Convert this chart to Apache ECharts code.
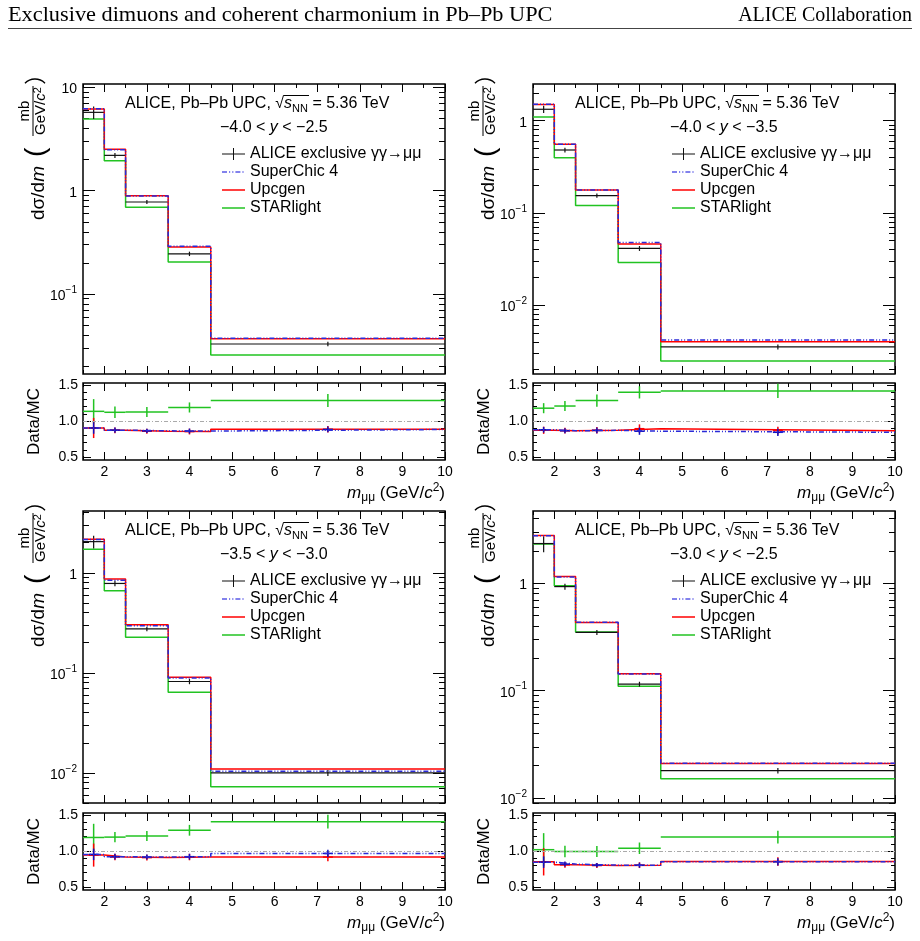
<!DOCTYPE html>
<html>
<head>
<meta charset="utf-8">
<script src="https://cdn.jsdelivr.net/npm/echarts@6/dist/echarts.min.js"></script>
<style>
html, body { margin: 0; padding: 0; background: #fff; }
#chart { width: 920px; height: 941px; }
</style>
</head>
<body>
<div id="chart"></div>
<script>
var FONT = 'Liberation Sans';

// m_mumu bins (GeV/c^2)
var binEdges = [1.5, 2, 2.5, 3.5, 4.5, 10];
var xMajorTicks = [2, 3, 4, 5, 6, 7, 8, 9, 10];
var xMinorTicks = [1.5, 2.5, 3.5, 4.5, 5.5, 6.5, 7.5, 8.5, 9.5];
var ratioMajorTicks = [0.5, 1.0, 1.5];
var ratioMinorTicks = [0.6, 0.7, 0.8, 0.9, 1.1, 1.2, 1.3, 1.4];
var logDecades = [0.001, 0.01, 0.1, 1, 10];
var logMinorSteps = [2, 3, 4, 5, 6, 7, 8, 9];

var names = ['ALICE exclusive γγ→μμ', 'SuperChic 4', 'Upcgen', 'STARlight'];
var rapLabels = ['−4.0 < {i|y} < −2.5', '−4.0 < {i|y} < −3.5', '−3.5 < {i|y} < −3.0', '−3.0 < {i|y} < −2.5'];

// -4.0 < y < -2.5
var alice1 = [5.74, 2.20, 0.778, 0.245, 0.0328];
var aliceErr1 = [0.8, 0.12, 0.035, 0.012, 0.0016];
var superchic1 = [6.22, 2.50, 0.890, 0.290, 0.0372];
var upcgen1 = [6.18, 2.52, 0.895, 0.285, 0.0369];
var starlight1 = [4.94, 1.95, 0.690, 0.204, 0.0257];
var ratioUp1 = [0.905, 0.873, 0.860, 0.855, 0.886];
var ratioSC1 = [0.905, 0.875, 0.865, 0.862, 0.884];
var ratioSL1 = [1.136, 1.123, 1.127, 1.190, 1.286];
var errUp1 = [0.14, 0.04, 0.035, 0.04, 0.045];
var errSC1 = [0.08, 0.035, 0.03, 0.035, 0.04];
var errSL1 = [0.17, 0.08, 0.07, 0.07, 0.09];

// -4.0 < y < -3.5
var alice2 = [1.33, 0.481, 0.154, 0.0412, 0.00353];
var aliceErr2 = [0.12, 0.028, 0.008, 0.0025, 0.00022];
var superchic2 = [1.51, 0.556, 0.177, 0.0477, 0.00418];
var upcgen2 = [1.50, 0.554, 0.177, 0.0459, 0.00400];
var starlight2 = [1.10, 0.397, 0.120, 0.0290, 0.00247];
var ratioUp2 = [0.873, 0.868, 0.873, 0.895, 0.868];
var ratioSC2 = [0.880, 0.866, 0.872, 0.860, 0.845];
var ratioSL2 = [1.18, 1.21, 1.286, 1.40, 1.42];
var errUp2 = [0.05, 0.04, 0.045, 0.06, 0.055];
var errSC2 = [0.04, 0.035, 0.04, 0.05, 0.05];
var errSL2 = [0.07, 0.07, 0.085, 0.085, 0.1];

// -3.5 < y < -3.0
var alice3 = [2.05, 0.783, 0.275, 0.082, 0.0100];
var aliceErr3 = [0.3, 0.05, 0.014, 0.005, 0.0007];
var superchic3 = [2.15, 0.845, 0.296, 0.089, 0.0104];
var upcgen3 = [2.17, 0.865, 0.303, 0.0905, 0.01096];
var starlight3 = [1.72, 0.662, 0.227, 0.0641, 0.00725];
var ratioUp3 = [0.945, 0.918, 0.910, 0.918, 0.918];
var ratioSC3 = [0.955, 0.923, 0.918, 0.923, 0.968];
var ratioSL3 = [1.19, 1.195, 1.21, 1.29, 1.41];
var errUp3 = [0.16, 0.045, 0.04, 0.045, 0.06];
var errSC3 = [0.08, 0.04, 0.035, 0.04, 0.05];
var errSL3 = [0.19, 0.07, 0.07, 0.075, 0.095];

// -3.0 < y < -2.5
var alice4 = [2.34, 0.93, 0.348, 0.115, 0.0180];
var aliceErr4 = [0.4, 0.06, 0.018, 0.006, 0.0011];
var superchic4 = [2.77, 1.14, 0.432, 0.143, 0.0211];
var upcgen4 = [2.78, 1.153, 0.430, 0.1435, 0.0210];
var starlight4 = [2.32, 0.945, 0.352, 0.110, 0.0151];
var ratioUp4 = [0.852, 0.810, 0.800, 0.805, 0.856];
var ratioSC4 = [0.847, 0.820, 0.805, 0.805, 0.852];
var ratioSL4 = [1.02, 0.995, 0.995, 1.04, 1.195];
var errUp4 = [0.19, 0.04, 0.035, 0.04, 0.06];
var errSC4 = [0.08, 0.035, 0.03, 0.035, 0.05];
var errSL4 = [0.23, 0.08, 0.075, 0.08, 0.09];

var panelData = [
  {alice: alice1, aliceErr: aliceErr1, sc: superchic1, up: upcgen1, sl: starlight1, rUp: ratioUp1, rSC: ratioSC1, rSL: ratioSL1, eUp: errUp1, eSC: errSC1, eSL: errSL1},
  {alice: alice2, aliceErr: aliceErr2, sc: superchic2, up: upcgen2, sl: starlight2, rUp: ratioUp2, rSC: ratioSC2, rSL: ratioSL2, eUp: errUp2, eSC: errSC2, eSL: errSL2},
  {alice: alice3, aliceErr: aliceErr3, sc: superchic3, up: upcgen3, sl: starlight3, rUp: ratioUp3, rSC: ratioSC3, rSL: ratioSL3, eUp: errUp3, eSC: errSC3, eSL: errSL3},
  {alice: alice4, aliceErr: aliceErr4, sc: superchic4, up: upcgen4, sl: starlight4, rUp: ratioUp4, rSC: ratioSC4, rSL: ratioSL4, eUp: errUp4, eSC: errSC4, eSL: errSL4}
];

// pad layout
var PW = 362;
var layout = [
  {left: 83, top: 84, h: 290, rTop: 383, rH: 77, yMin: 0.0168, yMax: 10.8},
  {left: 533, top: 84, h: 290, rTop: 383, rH: 77, yMin: 0.00179, yMax: 2.5},
  {left: 83, top: 511, h: 292, rTop: 813, rH: 77, yMin: 0.005, yMax: 4.15},
  {left: 533, top: 511, h: 292, rTop: 813, rH: 77, yMin: 0.009, yMax: 4.7}
];

var RED = '#ff0000', BLUE = '#2a2ad8', GREEN = '#22c322', BLACK = '#111';

var logMinors = [];
logDecades.forEach(function (d) {
  logMinorSteps.forEach(function (s) { logMinors.push(+(d * s).toPrecision(3)); });
});

function stepData(vals) {
  var d = [];
  for (var i = 0; i < vals.length; i++) d.push([binEdges[i], vals[i]]);
  d.push([binEdges[vals.length], vals[vals.length - 1]]);
  return d;
}
function errData(vals, errs) {
  return vals.map(function (v, i) { return [binEdges[i], binEdges[i + 1], v, errs[i]]; });
}
function errorBars(color, width, mode) {
  return function (params, api) {
    var xlo = api.value(0), xhi = api.value(1), y = api.value(2), e = api.value(3);
    var xc = (xlo + xhi) / 2;
    var c = api.coord([xc, y]);
    var up = api.coord([xc, y + e]);
    var dn = api.coord([xc, Math.max(y - e, 1e-9)]);
    var h1, h2;
    if (mode === 'span') { h1 = api.coord([xlo, y]); h2 = api.coord([xhi, y]); }
    else { h1 = [c[0] - 5, c[1]]; h2 = [c[0] + 5, c[1]]; }
    return {
      type: 'group',
      children: [
        {type: 'line', shape: {x1: h1[0], y1: h1[1], x2: h2[0], y2: h2[1]}, style: {stroke: color, lineWidth: width}},
        {type: 'line', shape: {x1: up[0], y1: up[1], x2: dn[0], y2: dn[1]}, style: {stroke: color, lineWidth: width}}
      ]
    };
  };
}

var grids = [], xAxes = [], yAxes = [], series = [], legends = [], elements = [];
var tickLine = {color: '#000', width: 1};

function addX(gi, showLabels) {
  var first = xAxes.length;
  ['bottom', 'top'].forEach(function (pos) {
    [[xMajorTicks, 8], [xMinorTicks, 4]].forEach(function (t, k) {
      xAxes.push({
        type: 'value', gridIndex: gi, position: pos, min: 1.5, max: 10,
        axisLine: {show: false, onZero: false}, splitLine: {show: false},
        axisTick: {show: true, inside: true, length: t[1], customValues: t[0], lineStyle: tickLine},
        axisLabel: (pos === 'bottom' && k === 0 && showLabels) ? {
          show: true, customValues: xMajorTicks, color: '#000', fontSize: 14, fontFamily: FONT, margin: 5
        } : {show: false}
      });
    });
  });
  return first;
}

function addY(gi, isLog, yMin, yMax, majors, minors, majLen, minLen, labelCfg) {
  var first = yAxes.length;
  ['left', 'right'].forEach(function (pos) {
    [[majors, majLen], [minors, minLen]].forEach(function (t, k) {
      var ax = {
        type: isLog ? 'log' : 'value', gridIndex: gi, position: pos, min: yMin, max: yMax,
        axisLine: {show: false, onZero: false}, splitLine: {show: false},
        axisTick: {show: true, inside: true, length: t[1], customValues: t[0], lineStyle: tickLine},
        axisLabel: {show: false}
      };
      if (isLog) ax.logBase = 10;
      if (pos === 'left' && k === 0) ax.axisLabel = labelCfg;
      yAxes.push(ax);
    });
  });
  return first;
}

var logLabel = {
  show: true, customValues: logDecades, margin: 6, color: '#000', fontSize: 14, fontFamily: FONT,
  formatter: function (v) {
    if (v >= 1) return '{b|' + Math.round(v) + '}';
    return '{b|10}{sup|−' + Math.round(-Math.log10(v)) + '}';
  },
  rich: {
    b: {fontSize: 14, fontFamily: FONT, color: '#000', lineHeight: 18, verticalAlign: 'bottom'},
    sup: {fontSize: 10, fontFamily: FONT, color: '#000', lineHeight: 10, verticalAlign: 'top'}
  }
};
var ratioLabel = {
  show: true, customValues: ratioMajorTicks, margin: 5, color: '#000', fontSize: 14, fontFamily: FONT,
  formatter: function (v) { return v.toFixed(1); }
};

function txt(o) {
  o.fontFamily = o.fontFamily || FONT;
  o.fill = o.fill || '#000';
  if (o.align) o.textAlign = o.align;
  if (o.verticalAlign) o.textVerticalAlign = o.verticalAlign;
  return o;
}
function richFor(size) {
  var small = Math.round(size * 0.7);
  return {
    i: {fontStyle: 'italic', fontSize: size, fontFamily: FONT, fill: '#000', color: '#000'},
    sub: {fontSize: small, lineHeight: small, verticalAlign: 'bottom', fontFamily: FONT, fill: '#000', color: '#000'},
    sup: {fontSize: small, lineHeight: small, verticalAlign: 'top', fontFamily: FONT, fill: '#000', color: '#000'}
  };
}

var iconCross = 'path://M0,5.5H23V6.5H0Z M11,0H12V12H11Z';
var iconLine = 'path://M0,5.25H23V6.75H0Z';
var iconDash = 'path://M0,5.25H5V6.75H0Z M7,5.25H8.2V6.75H7Z M10.2,5.25H11.4V6.75H10.2Z M13.4,5.25H18.4V6.75H13.4Z M20.4,5.25H21.6V6.75H20.4Z M23,5.25H23V6.75H23Z';

layout.forEach(function (L, p) {
  var D = panelData[p];
  var gMain = grids.length;
  grids.push({left: L.left, top: L.top, width: PW, height: L.h, show: true, borderColor: '#000', borderWidth: 1.5, containLabel: false, outerBoundsMode: 'none'});
  var gRatio = grids.length;
  grids.push({left: L.left, top: L.rTop, width: PW, height: L.rH, show: true, borderColor: '#000', borderWidth: 1.5, containLabel: false, outerBoundsMode: 'none'});

  var xm = addX(gMain, false);
  var ym = addY(gMain, true, L.yMin, L.yMax, logDecades, logMinors, 12, 6, logLabel);
  var xr = addX(gRatio, true);
  var yr = addY(gRatio, false, 0.46, 1.53, ratioMajorTicks, ratioMinorTicks, 8, 4, ratioLabel);

  // main pad
  series.push({name: names[3], type: 'line', step: 'end', xAxisIndex: xm, yAxisIndex: ym, data: stepData(D.sl),
    symbol: 'none', lineStyle: {color: GREEN, width: 1.5}, itemStyle: {color: GREEN}, z: 2});
  series.push({name: names[0], type: 'custom', xAxisIndex: xm, yAxisIndex: ym, data: errData(D.alice, D.aliceErr),
    encode: {x: [0, 1], y: 2}, renderItem: errorBars(BLACK, 1.2, 'span'), itemStyle: {color: BLACK}, clip: true, z: 3});
  series.push({name: names[2], type: 'line', step: 'end', xAxisIndex: xm, yAxisIndex: ym, data: stepData(D.up),
    symbol: 'none', lineStyle: {color: RED, width: 1.5}, itemStyle: {color: RED}, z: 4});
  series.push({name: names[1], type: 'line', step: 'end', xAxisIndex: xm, yAxisIndex: ym, data: stepData(D.sc),
    symbol: 'none', lineStyle: {color: BLUE, width: 1.5, type: [5, 2, 1, 2, 1, 2]}, itemStyle: {color: BLUE}, z: 5});

  // ratio pad
  series.push({name: 'Data/STARlight', type: 'custom', xAxisIndex: xr, yAxisIndex: yr, data: errData(D.rSL, D.eSL),
    encode: {x: [0, 1], y: 2}, renderItem: errorBars(GREEN, 1.5, 'span'), clip: true, z: 3});
  series.push({name: 'Data/Upcgen', type: 'line', step: 'end', xAxisIndex: xr, yAxisIndex: yr, data: stepData(D.rUp),
    symbol: 'none', lineStyle: {color: RED, width: 1.5}, z: 4,
    markLine: {silent: true, symbol: ['none', 'none'], label: {show: false},
      lineStyle: {color: '#aaaaaa', width: 1, type: [4, 2, 1, 2]}, data: [{yAxis: 1}]}});
  series.push({name: 'Data/Upcgen err', type: 'custom', xAxisIndex: xr, yAxisIndex: yr, data: errData(D.rUp, D.eUp),
    encode: {x: [0, 1], y: 2}, renderItem: errorBars(RED, 1.5, 'cross'), clip: true, z: 4});
  series.push({name: 'Data/SuperChic', type: 'line', step: 'end', xAxisIndex: xr, yAxisIndex: yr, data: stepData(D.rSC),
    symbol: 'none', lineStyle: {color: BLUE, width: 1.5, type: [5, 2, 1, 2, 1, 2]}, z: 5});
  series.push({name: 'Data/SuperChic err', type: 'custom', xAxisIndex: xr, yAxisIndex: yr, data: errData(D.rSC, D.eSC),
    encode: {x: [0, 1], y: 2}, renderItem: errorBars('#1010c0', 1.5, 'cross'), clip: true, z: 5});

  legends.push({
    left: L.left + 139, top: L.top + 61, orient: 'vertical', itemWidth: 23, itemHeight: 12, itemGap: 0,
    selectedMode: false, padding: 0,
    textStyle: {fontSize: 16, lineHeight: 18, fontFamily: FONT, color: '#000'},
    data: [
      {name: names[0], icon: iconCross, itemStyle: {color: BLACK}},
      {name: names[1], icon: iconDash, itemStyle: {color: '#5a5ae6'}},
      {name: names[2], icon: iconLine, itemStyle: {color: RED}},
      {name: names[3], icon: iconLine, itemStyle: {color: GREEN}}
    ]
  });

  // annotations
  elements.push({type: 'text', x: L.left + 42, y: L.top + 20, style: txt({
    text: 'ALICE, Pb–Pb UPC, √{i|s}{sub|NN} = 5.36 TeV', fontSize: 16, lineHeight: 20,
    align: 'left', verticalAlign: 'middle', rich: richFor(16)})});
  // overline of the square root
  elements.push({type: 'line', shape: {x1: L.left + 200.5, y1: L.top + 11.5, x2: L.left + 226, y2: L.top + 11.5},
    style: {stroke: '#000', lineWidth: 1}});
  elements.push({type: 'text', x: L.left + 137, y: L.top + 44, style: txt({
    text: rapLabels[p], fontSize: 16, align: 'left', verticalAlign: 'middle', rich: richFor(16)})});

  // y title with fraction
  elements.push({type: 'group', x: L.left - 50, y: L.top + 136, rotation: Math.PI / 2, children: [
    {type: 'text', x: 0, y: 6, style: txt({text: 'dσ/d{i|m}', fontSize: 19, align: 'left', verticalAlign: 'middle', rich: richFor(19)})},
    {type: 'text', x: 63, y: 3, style: txt({text: '(', fontSize: 28, align: 'left', verticalAlign: 'middle'})},
    {type: 'text', x: 109, y: -1, style: txt({text: 'mb', fontSize: 15, align: 'center', verticalAlign: 'bottom'})},
    {type: 'line', shape: {x1: 84, y1: 0, x2: 134, y2: 0}, style: {stroke: '#000', lineWidth: 1}},
    {type: 'text', x: 109, y: 8, style: txt({text: 'GeV/{i|c}{sup|2}', fontSize: 15, lineHeight: 18, align: 'center', verticalAlign: 'middle', rich: richFor(15)})}
  ]});
  // closing bracket of the y title
  elements.push({type: 'arc', shape: {cx: L.left - 48, cy: L.top + 9, r: 14, startAngle: -Math.PI / 2 - 0.8, endAngle: -Math.PI / 2 + 0.8, clockwise: true},
    style: {stroke: '#000', lineWidth: 1.3, fill: null}});
  elements.push({type: 'text', x: L.left - 49, y: L.rTop + L.rH / 2, rotation: Math.PI / 2, style: txt({
    text: 'Data/MC', fontSize: 17, align: 'center', verticalAlign: 'middle'})});
  elements.push({type: 'text', x: L.left + PW, y: L.rTop + L.rH + 33, style: txt({
    text: '{i|m}{sub|μμ} (GeV/{i|c}{sup|2})', fontSize: 17, lineHeight: 22, align: 'right', verticalAlign: 'middle', rich: richFor(17)})});
});

// page header
elements.push({type: 'text', x: 8, y: 16, scaleX: 1.115, style: txt({text: 'Exclusive dimuons and coherent charmonium in Pb–Pb UPC',
  fontFamily: 'Liberation Serif', fontSize: 20, align: 'left', verticalAlign: 'middle'})});
elements.push({type: 'text', x: 912, y: 16, style: txt({text: 'ALICE Collaboration',
  fontFamily: 'Liberation Serif', fontSize: 20, align: 'right', verticalAlign: 'middle'})});
elements.push({type: 'line', shape: {x1: 8, y1: 28.5, x2: 912, y2: 28.5}, style: {stroke: '#444', lineWidth: 1}});

var chart = echarts.init(document.getElementById('chart'));
chart.setOption({
  animation: false,
  backgroundColor: '#fff',
  grid: grids,
  xAxis: xAxes,
  yAxis: yAxes,
  legend: legends,
  series: series,
  graphic: {elements: elements}
});
window.addEventListener('resize', function () { chart.resize(); });
</script>
</body>
</html>
